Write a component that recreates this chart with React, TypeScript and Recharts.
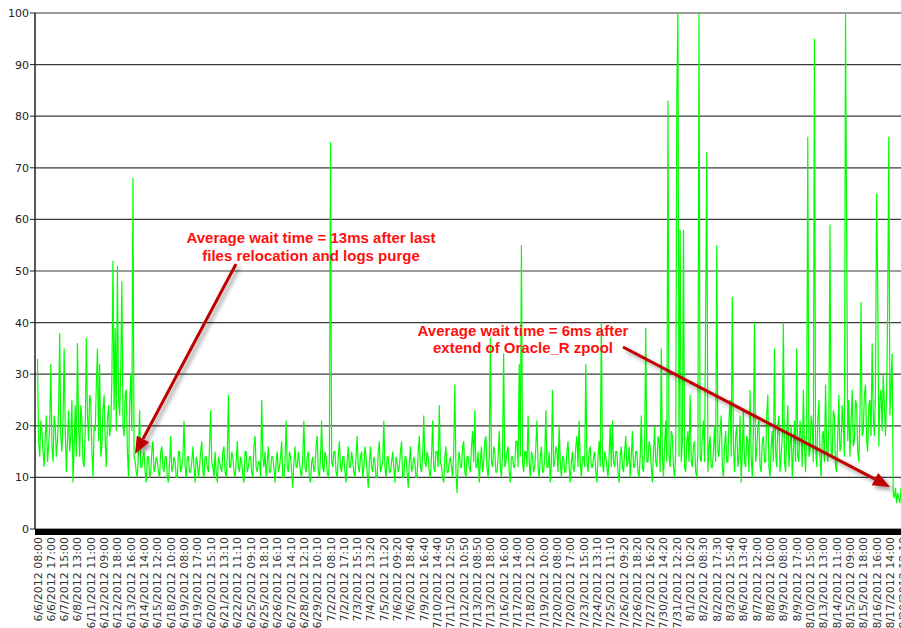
import React from 'react';
import { LineChart, Line, XAxis, YAxis, CartesianGrid } from 'recharts';

// Sample timestamps printed under the axis (one every POINTS_PER_LABEL samples)
const tickLabels = [
  '6/6/2012 08:00', '6/6/2012 17:00', '6/7/2012 15:00', '6/8/2012 13:00', '6/11/2012 11:00',
  '6/12/2012 09:00', '6/12/2012 18:00', '6/13/2012 16:00', '6/14/2012 14:00', '6/15/2012 12:00',
  '6/18/2012 10:00', '6/19/2012 08:00', '6/19/2012 17:00', '6/20/2012 15:10', '6/21/2012 13:10',
  '6/22/2012 11:10', '6/25/2012 09:10', '6/25/2012 18:10', '6/26/2012 16:10', '6/27/2012 14:10',
  '6/28/2012 12:10', '6/29/2012 10:10', '7/2/2012 08:10', '7/2/2012 17:10', '7/3/2012 15:10',
  '7/4/2012 13:20', '7/5/2012 11:20', '7/6/2012 09:20', '7/6/2012 18:40', '7/9/2012 16:40',
  '7/10/2012 14:40', '7/11/2012 12:50', '7/12/2012 10:50', '7/13/2012 08:50', '7/13/2012 18:00',
  '7/16/2012 16:00', '7/17/2012 14:00', '7/18/2012 12:00', '7/19/2012 10:00', '7/20/2012 08:00',
  '7/20/2012 17:00', '7/23/2012 15:00', '7/24/2012 13:10', '7/25/2012 11:10', '7/26/2012 09:20',
  '7/26/2012 18:20', '7/27/2012 16:20', '7/30/2012 14:20', '7/31/2012 12:20', '8/1/2012 10:20',
  '8/2/2012 08:30', '8/2/2012 17:30', '8/3/2012 15:40', '8/6/2012 13:40', '8/7/2012 12:00',
  '8/8/2012 10:00', '8/9/2012 08:00', '8/9/2012 17:00', '8/10/2012 15:00', '8/13/2012 13:00',
  '8/14/2012 11:00', '8/15/2012 09:00', '8/15/2012 18:00', '8/16/2012 16:00', '8/17/2012 14:00',
  '8/20/2012 12:10',
];

const POINTS_PER_LABEL = 12;

// Average wait time (ms), June samples (one row per labelled interval)
const juneWaits = [
  33, 17, 14, 21, 19, 15, 12, 18, 22, 13, 16, 20,
  32, 16, 13, 22, 20, 14, 17, 23, 38, 18, 15, 21,
  35, 19, 11, 17, 23, 15, 18, 25, 9, 16, 24, 14,
  36, 20, 14, 24, 21, 13, 12, 19, 37, 22, 17, 26,
  25, 15, 10, 20, 19, 28, 35, 17, 32, 14, 16, 23,
  26, 17, 12, 21, 24, 18, 20, 29, 52, 23, 39, 19,
  51, 25, 22, 31, 48, 20, 18, 26, 27, 15, 10, 24,
  30, 19, 68, 14, 13, 11, 10, 15, 23, 12, 12, 14,
  15, 11, 9, 14, 14, 10, 11, 15, 17, 11, 12, 14,
  13, 11, 10, 15, 16, 12, 11, 14, 14, 10, 9, 13,
  18, 11, 12, 14, 13, 10, 10, 15, 15, 11, 12, 14,
  21, 12, 10, 14, 14, 11, 11, 13, 16, 12, 9, 14,
  13, 10, 12, 15, 17, 11, 10, 14, 14, 12, 11, 16,
  23, 13, 12, 10, 15, 11, 9, 14, 13, 12, 11, 15,
  16, 11, 10, 14, 26, 12, 12, 15, 14, 11, 10, 13,
  17, 12, 11, 14, 13, 10, 9, 15, 15, 11, 12, 14,
  14, 11, 10, 16, 18, 12, 11, 13, 13, 10, 25, 14,
  12, 15, 10, 13, 16, 11, 11, 14, 14, 12, 9, 13,
  15, 11, 12, 14, 17, 10, 10, 13, 21, 12, 11, 15,
  14, 11, 8, 13, 16, 12, 12, 15, 13, 11, 10, 14,
  21, 12, 11, 14, 15, 10, 9, 13, 14, 11, 12, 16,
  18, 11, 10, 14, 21, 12, 11, 15, 14, 11, 10, 13,
];

// Average wait time (ms), July samples
const julyWaits = [
  75, 13, 12, 15, 15, 11, 10, 14, 17, 12, 11, 14,
  14, 11, 9, 13, 16, 12, 12, 15, 13, 11, 10, 14,
  18, 12, 11, 14, 15, 10, 12, 16, 14, 11, 8, 13,
  16, 12, 11, 14, 13, 10, 10, 15, 17, 11, 12, 13,
  21, 12, 10, 14, 14, 11, 11, 13, 15, 12, 9, 14,
  13, 11, 12, 15, 17, 10, 10, 14, 14, 11, 8, 13,
  16, 11, 12, 14, 13, 10, 10, 15, 18, 12, 11, 14,
  22, 13, 12, 15, 14, 11, 10, 14, 21, 12, 11, 15,
  15, 12, 24, 13, 12, 10, 9, 14, 16, 11, 11, 13,
  14, 12, 10, 15, 28, 11, 7, 13, 15, 12, 12, 16,
  17, 11, 10, 14, 14, 12, 11, 16, 19, 13, 23, 12,
  12, 15, 9, 13, 16, 11, 13, 17, 18, 12, 10, 14,
  37, 13, 12, 16, 15, 11, 11, 14, 19, 12, 10, 15,
  34, 12, 13, 15, 16, 11, 9, 14, 14, 12, 12, 17,
  17, 12, 32, 14, 55, 13, 11, 15, 15, 12, 22, 13,
  10, 15, 14, 11, 12, 16, 21, 12, 10, 14, 16, 11,
  11, 14, 23, 12, 12, 15, 9, 13, 27, 12, 13, 16,
  15, 11, 20, 13, 10, 14, 14, 11, 11, 15, 17, 12,
  9, 13, 15, 11, 12, 16, 18, 12, 21, 13, 10, 14,
  14, 12, 32, 13, 11, 15, 16, 12, 12, 14, 15, 11,
  9, 14, 17, 12, 40, 13, 11, 15, 14, 12, 10, 14,
  20, 12, 21, 13, 12, 15, 15, 11, 9, 14, 16, 12,
  11, 15, 18, 12, 13, 16, 10, 14, 19, 12, 12, 15,
  15, 11, 10, 14, 22, 12, 11, 16, 39, 13, 13, 17,
  16, 12, 9, 15, 20, 13, 12, 18, 17, 11, 35, 14,
  10, 16, 21, 13, 83, 14, 12, 19, 18, 12, 10, 15,
  84, 100, 14, 58, 13, 17, 58, 12, 11, 17, 19, 13,
];

// Average wait time (ms), August samples
const augustWaits = [
  26, 13, 12, 16, 17, 11, 10, 15, 100, 14, 13, 18,
  21, 13, 42, 73, 11, 16, 18, 12, 12, 15, 20, 13,
  55, 15, 14, 19, 22, 12, 10, 16, 19, 13, 13, 21,
  25, 14, 45, 16, 11, 18, 20, 12, 14, 22, 9, 15,
  23, 13, 12, 18, 17, 11, 27, 14, 10, 19, 40, 13,
  15, 20, 21, 12, 11, 17, 18, 13, 13, 22, 26, 12,
  10, 16, 19, 13, 35, 15, 12, 20, 22, 11, 14, 18,
  40, 13, 11, 18, 24, 12, 16, 20, 10, 15, 21, 13,
  35, 14, 13, 21, 18, 12, 27, 16, 11, 19, 76, 14,
  15, 22, 20, 13, 95, 16, 12, 21, 25, 14, 10, 18,
  19, 13, 28, 16, 13, 20, 59, 15, 14, 23, 22, 12,
  11, 18, 26, 15, 16, 24, 20, 14, 100, 58, 17, 25,
  14, 21, 27, 16, 17, 25, 24, 15, 13, 22, 44, 18,
  19, 26, 28, 17, 15, 24, 25, 18, 36, 22, 18, 27,
  65, 47, 16, 25, 27, 19, 30, 24, 18, 26, 43, 76,
  22, 28, 34, 7, 6, 8, 5, 7, 6, 5, 8, 6,
  7, 5, 6, 8, 6, 5, 7, 6,
];

const yTicks = [0, 10, 20, 30, 40, 50, 60, 70, 80, 90, 100];

const waits = [...juneWaits, ...julyWaits, ...augustWaits];
const data = waits.map((ms, i) => ({ i, ms }));
const xTicks = tickLabels.map((_, k) => k * POINTS_PER_LABEL);
const lastIndex = waits.length - 1;

const AXIS_FONT = '"DejaVu Sans", Tahoma, sans-serif';
const NOTE_FONT = '"Liberation Sans", Arial, sans-serif';
const ARROW_COLOR = '#c00000';

const DateTick = (props: any) => {
  const { x, y, payload } = props;
  const label = tickLabels[Math.round(payload.value / POINTS_PER_LABEL)];
  return (
    <text
      x={x}
      y={y}
      dy={4}
      transform={`rotate(-90, ${x}, ${y})`}
      textAnchor="end"
      fontSize={11}
      fontFamily={AXIS_FONT}
      fill="#333"
    >
      {label}
    </text>
  );
};

type ArrowProps = { x1: number; y1: number; x2: number; y2: number };

// Straight callout arrow with a triangular head at (x2, y2)
const Arrow = ({ x1, y1, x2, y2 }: ArrowProps) => {
  const ang = Math.atan2(y2 - y1, x2 - x1);
  const headLen = 17;
  const half = 7;
  const bx = x2 - headLen * Math.cos(ang);
  const by = y2 - headLen * Math.sin(ang);
  const px = -Math.sin(ang) * half;
  const py = Math.cos(ang) * half;
  return (
    <g filter="url(#calloutShadow)">
      <line x1={x1} y1={y1} x2={bx} y2={by} stroke={ARROW_COLOR} strokeWidth={3} />
      <polygon
        points={`${x2},${y2} ${bx + px},${by + py} ${bx - px},${by - py}`}
        fill={ARROW_COLOR}
      />
    </g>
  );
};

const Note = ({ x, y, lines }: { x: number; y: number; lines: string[] }) => (
  <text
    x={x}
    y={y}
    textAnchor="middle"
    fontSize={15}
    fontWeight="bold"
    fontFamily={NOTE_FONT}
    fill="#ff1010"
  >
    {lines.map((t, k) => (
      <tspan key={k} x={x} dy={k === 0 ? 0 : 17.5}>
        {t}
      </tspan>
    ))}
  </text>
);

export default function App() {
  return (
    <div
      style={{
        position: 'fixed',
        left: 0,
        top: 0,
        width: 901,
        height: 628,
        overflow: 'hidden',
        background: '#fff',
      }}
    >
      <LineChart
        width={913}
        height={628}
        data={data}
        margin={{ top: 13, right: 0, bottom: 0, left: 0 }}
      >
        <CartesianGrid vertical={false} stroke="#3a3a3a" strokeWidth={1.2} />
        <XAxis
          type="number"
          dataKey="i"
          domain={[0, lastIndex]}
          ticks={xTicks}
          interval={0}
          padding={{ left: 2.5, right: 2 }}
          height={99}
          tickLine={false}
          tickSize={6}
          tickMargin={2}
          tick={<DateTick />}
          axisLine={{ stroke: '#000', strokeWidth: 6, transform: 'translate(0,3)' }}
        />
        <YAxis
          type="number"
          domain={[0, 100]}
          ticks={yTicks}
          interval={0}
          width={35}
          tickSize={5}
          tickMargin={1}
          axisLine={{ stroke: '#222', strokeWidth: 1.5 }}
          tickLine={{ stroke: '#222' }}
          tick={{ fontSize: 11, fontFamily: AXIS_FONT, fill: '#222' }}
        />
        <Line
          type="linear"
          dataKey="ms"
          stroke="#00ff00"
          strokeWidth={1.2}
          dot={false}
          activeDot={false}
          isAnimationActive={false}
        />
      </LineChart>
      <svg
        width={901}
        height={628}
        style={{ position: 'absolute', left: 0, top: 0, pointerEvents: 'none' }}
      >
        <defs>
          <filter id="calloutShadow" x="-20%" y="-20%" width="140%" height="140%">
            <feDropShadow dx={3} dy={3} stdDeviation={2} floodColor="#000" floodOpacity={0.4} />
          </filter>
        </defs>
        <Note x={311} y={243} lines={['Average wait time = 13ms after last', 'files relocation and logs purge']} />
        <Arrow x1={236} y1={264} x2={135} y2={454} />
        <Note x={523} y={335.5} lines={['Average wait time = 6ms after', 'extend of Oracle_R zpool']} />
        <Arrow x1={623} y1={347} x2={890} y2={487} />
      </svg>
    </div>
  );
}
